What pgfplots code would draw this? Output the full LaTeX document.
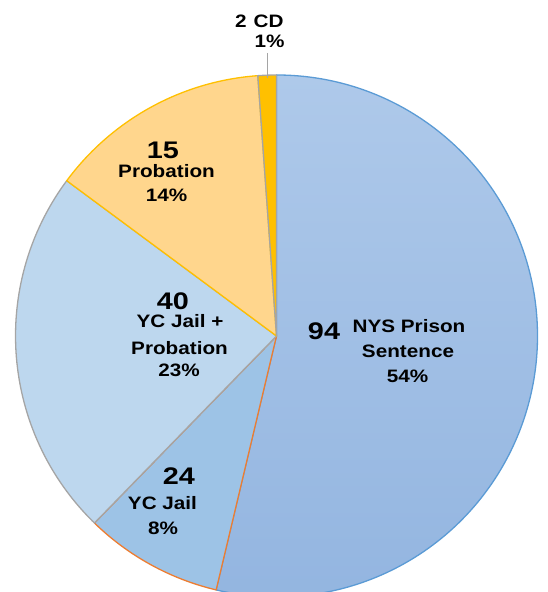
\documentclass[border=0pt]{standalone}
\usepackage{pgfplots}
\usepackage{pgfplotstable}
\pgfplotsset{compat=1.18}
\usepackage{fontspec}
\setmainfont{Liberation Sans}
\definecolor{nysT}{HTML}{AEC9EA}
\definecolor{nysB}{HTML}{93B5E0}
\definecolor{nysE}{HTML}{5B9BD5}
\definecolor{ycjF}{HTML}{9DC3E6}
\definecolor{ycjE}{HTML}{ED7D31}
\definecolor{ycjpF}{HTML}{BDD7EE}
\definecolor{grayE}{HTML}{A5A5A5}
\definecolor{probF}{HTML}{FFD68D}
\definecolor{probE}{HTML}{FFC000}
\definecolor{cdF}{HTML}{FFC000}
\tikzset{
  sl0/.style={top color=nysT,bottom color=nysB,draw=nysE},
  sl1/.style={fill=ycjF,draw=ycjE},
  sl2/.style={fill=ycjpF,draw=grayE},
  sl3/.style={fill=probF,draw=probE},
  sl4/.style={fill=cdF,draw=grayE},
}
% share = slice size as drawn (of 175); count and pct = printed labels
\pgfplotstableread[col sep=comma]{
label,count,pct,share,style
NYS Prison Sentence,94,54,94,sl0
YC Jail,24,8,15,sl1
YC Jail + Probation,40,23,40,sl2
Probation,15,14,24,sl3
CD,2,1,2,sl4
}\slices
\newcommand{\lab}[1]{\scalebox{1.15}[1]{\fontsize{18bp}{20bp}\selectfont\bfseries #1}}
\newcommand{\num}[1]{\scalebox{1.2}[1]{\fontsize{24bp}{26bp}\selectfont\bfseries #1}}
\begin{document}
\begin{tikzpicture}
\begin{axis}[
  scale only axis, width=548bp, height=592bp,
  xmin=0, xmax=548, ymin=0, ymax=592,
  hide axis, clip=true]
\def\cum{0}
\pgfplotsforeachungrouped \i in {0,...,4}{%
  \pgfplotstablegetelem{\i}{share}\of\slices \let\p\pgfplotsretval
  \pgfplotstablegetelem{\i}{style}\of\slices \let\st\pgfplotsretval
  \pgfmathsetmacro\a{90-2.0571429*\cum}%
  \pgfmathsetmacro\b{90-2.0571429*(\cum+\p)}%
  \edef\temp{\noexpand\path[\st,line width=1.3bp,line join=round] (axis cs:276.5,256) -- ++(\a:261bp) arc[start angle=\a,end angle=\b,radius=261bp] -- cycle;}%
  \temp
  \pgfmathsetmacro\cum{\cum+\p}%
}
% leader line for CD
\draw[grayE,line width=1bp] (axis cs:267.5,539) -- (axis cs:267.5,514);
% labels (anchor base, y = 592 - pixel baseline)
\node[anchor=base,inner sep=0] at (axis cs:324,252) {\num{94}};
\node[anchor=base,inner sep=0] at (axis cs:409,259) {\lab{NYS Prison}};
\node[anchor=base,inner sep=0] at (axis cs:408,234) {\lab{Sentence}};
\node[anchor=base,inner sep=0] at (axis cs:407.5,209.5) {\lab{54\%}};
\node[anchor=base,inner sep=0] at (axis cs:173,282) {\num{40}};
\node[anchor=base,inner sep=0] at (axis cs:180,264) {\lab{YC Jail +}};
\node[anchor=base,inner sep=0] at (axis cs:179.5,237) {\lab{Probation}};
\node[anchor=base,inner sep=0] at (axis cs:179,215.5) {\lab{23\%}};
\node[anchor=base,inner sep=0] at (axis cs:179,107) {\num{24}};
\node[anchor=base,inner sep=0] at (axis cs:162.5,82) {\lab{YC Jail}};
\node[anchor=base,inner sep=0] at (axis cs:163,57.5) {\lab{8\%}};
\node[anchor=base,inner sep=0] at (axis cs:163,433) {\num{15}};
\node[anchor=base,inner sep=0] at (axis cs:166.5,414) {\lab{Probation}};
\node[anchor=base,inner sep=0] at (axis cs:166.5,390) {\lab{14\%}};
\node[anchor=base,inner sep=0] at (axis cs:241,564) {\lab{2}};
\node[anchor=base,inner sep=0] at (axis cs:268.5,564) {\lab{CD}};
\node[anchor=base,inner sep=0] at (axis cs:269.5,544.5) {\lab{1\%}};
\end{axis}
\pgfresetboundingbox
\useasboundingbox (current axis.south west) rectangle (current axis.north east);
\end{tikzpicture}
\end{document}
